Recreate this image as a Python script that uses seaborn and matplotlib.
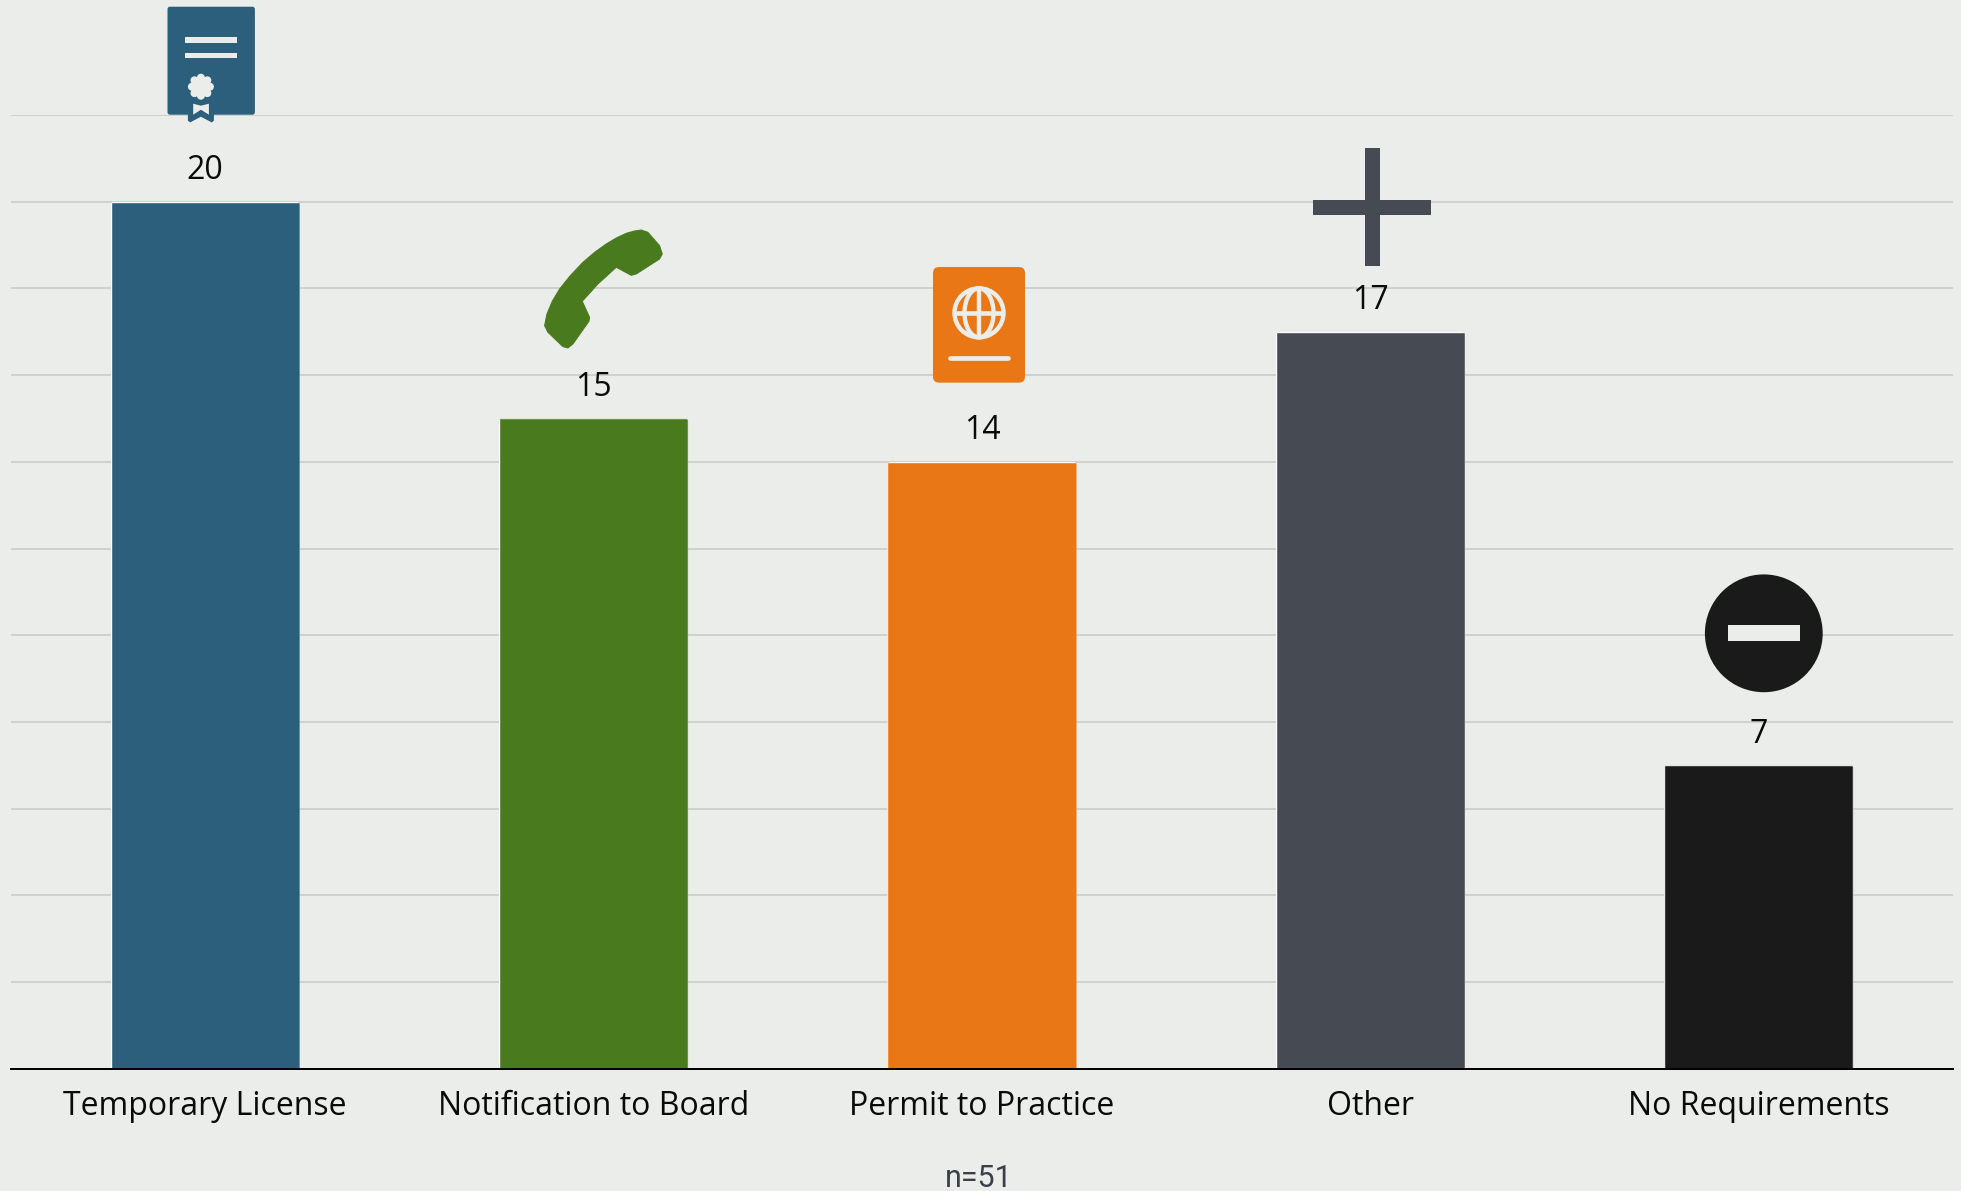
import matplotlib
matplotlib.use("Agg")
import matplotlib.pyplot as plt
import seaborn as sns
import pandas as pd
from matplotlib.patches import FancyBboxPatch, Circle, Ellipse, Polygon, Rectangle
from matplotlib.lines import Line2D
from matplotlib.transforms import Affine2D, IdentityTransform

categories = ["Temporary License", "Notification to Board", "Permit to Practice", "Other", "No Requirements"]
values = [20, 15, 14, 17, 7]
colors = ["#2C5F7C", "#4A7A1E", "#E97716", "#464A52", "#1A1A1B"]
y_ticks = list(range(0, 24, 2))
note = "n=51"

BG = "#EBEDEA"
W, H = 1961, 1191
DPI = 100
PX = 72 / DPI

sns.set_theme(style="whitegrid", rc={
    "figure.facecolor": BG, "axes.facecolor": BG, "grid.color": "#CFD1CE",
    "grid.linewidth": 2 * PX, "axes.edgecolor": "black",
})
plt.rcParams["font.family"] = ["Open Sans", "DejaVu Sans"]

fig = plt.figure(figsize=(W / DPI, H / DPI), dpi=DPI)
ax = fig.add_axes([11 / W, (H - 1068.8) / H, 1942 / W, (1068.8 - 115) / H])

df = pd.DataFrame({"category": categories, "value": values})
sns.barplot(data=df, x="category", y="value", hue="category", palette=colors,
            saturation=1, width=0.487, legend=False, ax=ax)

ax.set_xlim(-0.5, len(categories) - 0.5)
ax.set_ylim(0, 22)
ax.set_yticks(y_ticks)
ax.set_yticklabels([])
ax.set_xlabel("")
ax.set_ylabel("")
ax.set_axisbelow(True)
ax.grid(axis="x", visible=False)
ax.grid(axis="y", visible=True)
for s in ["left", "right", "top"]:
    ax.spines[s].set_visible(False)
ax.spines["bottom"].set_linewidth(2 * PX)
ax.spines["bottom"].set_color("black")
ax.tick_params(axis="both", length=0)
ax.tick_params(axis="x", pad=15, labelsize=23, labelcolor="#0A0A0A")

fig.text(979 / W, (H - 1187) / H, note, family="Roboto", fontsize=22, color="#3A3F4A",
         ha="center", va="baseline")


def place(anchor, dx, dy):
    """Icon-local pixels (y down) -> display, relative to a bar's top centre."""
    return Affine2D().scale(1, -1).translate(anchor[0] + dx, anchor[1] - dy)


def add(tr, patch):
    patch.set_transform(tr)
    fig.add_artist(patch)


def rrect(tr, x0, y0, x1, y1, r, color):
    add(tr, FancyBboxPatch((x0, y0), x1 - x0, y1 - y0, boxstyle=f"round,pad=0,rounding_size={r}",
                           fc=color, ec="none"))


def rule(tr, x0, y0, x1, y1, color, lw, cap="butt"):
    ln = Line2D([x0, x1], [y0, y1], color=color, lw=lw * PX, solid_capstyle=cap)
    ln.set_transform(tr)
    fig.add_artist(ln)


def icon_certificate(a, c):
    t = place(a, 6, -141)
    add(t, Polygon([(-23.3, 50), (2.7, 50), (2.7, 60), (0.5, 61.7), (-10.3, 56), (-21, 61.7), (-23.3, 60)],
                   fc=c, ec="none"))
    rrect(t, -43.7, -54, 43.7, 54, 2.5, c)
    add(t, Rectangle((-26, -23.3), 52, 5.3, fc=BG, ec="none"))
    add(t, Rectangle((-26, -7.7), 52, 5.4, fc=BG, ec="none"))
    add(t, Circle((-10.3, 26), 10, fc=BG, ec="none"))
    for p in [(9, 0), (6.4, 6.4), (0, 9), (-6.4, 6.4), (-9, 0), (-6.4, -6.4), (0, -9), (6.4, -6.4)]:
        add(t, Circle((-10.3 + p[0], 26 + p[1]), 4, fc=BG, ec="none"))
    add(t, Polygon([(-18, 43), (-10.3, 45), (-2.3, 43), (-2.3, 54), (-10.3, 49), (-18, 54)],
                   fc=BG, ec="none"))


def icon_phone(a, c):
    t = place(a, 10, -129.5)
    pts = [(305, 18), (325, 25), (360, 65), (368, 90), (360, 105), (290, 150), (275, 154), (230, 130),
           (175, 180), (128, 232), (150, 280), (148, 292), (100, 360), (85, 372), (70, 368), (25, 325),
           (15, 305), (22, 270), (38, 232), (60, 195), (92, 155), (130, 115), (165, 85), (200, 60),
           (230, 42), (260, 28), (285, 21)]
    add(t, Polygon([(x / 3 - 64, y / 3 - 65) for x, y in pts], fc=c, ec=c, lw=1 * PX, joinstyle="round"))


def icon_passport(a, c):
    t = place(a, -3, -137)
    rrect(t, -46, -57.8, 46, 57.8, 6, c)
    lw = 4.4 * PX
    add(t, Circle((0, -12), 24.5, fc="none", ec=BG, lw=lw))
    add(t, Ellipse((0, -12), 29, 49, fc="none", ec=BG, lw=lw))
    rule(t, 0, -36, 0, 12, BG, 4.4)
    rule(t, -24, -12, 24, -12, BG, 4.6)
    rule(t, -29, 33, 29, 33, BG, 4.7, cap="round")


def icon_plus(a, c):
    t = place(a, 2, -124.5)
    add(t, Rectangle((-7.5, -59), 15, 118, fc=c, ec="none"))
    add(t, Rectangle((-59, -7.5), 118, 15, fc=c, ec="none"))


def icon_minus(a, c):
    t = place(a, 5, -132)
    add(t, Circle((0, 0), 58.9, fc=c, ec="none"))
    add(t, Rectangle((-36, -8), 72, 16, fc=BG, ec="none"))


icons = [icon_certificate, icon_phone, icon_passport, icon_plus, icon_minus]

fig.canvas.draw()
for container, value, color, icon in zip(ax.containers, values, colors, icons):
    bar = container[0]
    x0, y0 = ax.transData.transform((bar.get_x(), 0))
    x1, y1 = ax.transData.transform((bar.get_x() + bar.get_width(), value))
    clip = FancyBboxPatch((x0, y0 - 12), x1 - x0, y1 - y0 + 12,
                          boxstyle="round,pad=0,rounding_size=3", transform=IdentityTransform())
    bar.set_clip_path(clip)
    ax.annotate(str(value), (bar.get_x() + bar.get_width() / 2, value), xytext=(0, 22.5 * PX),
                textcoords="offset points", ha="center", va="baseline", fontsize=23, color="#0A0A0A")
    icon(((x0 + x1) / 2, y1), color)

fig.savefig("out.png", dpi=DPI, facecolor=BG)
